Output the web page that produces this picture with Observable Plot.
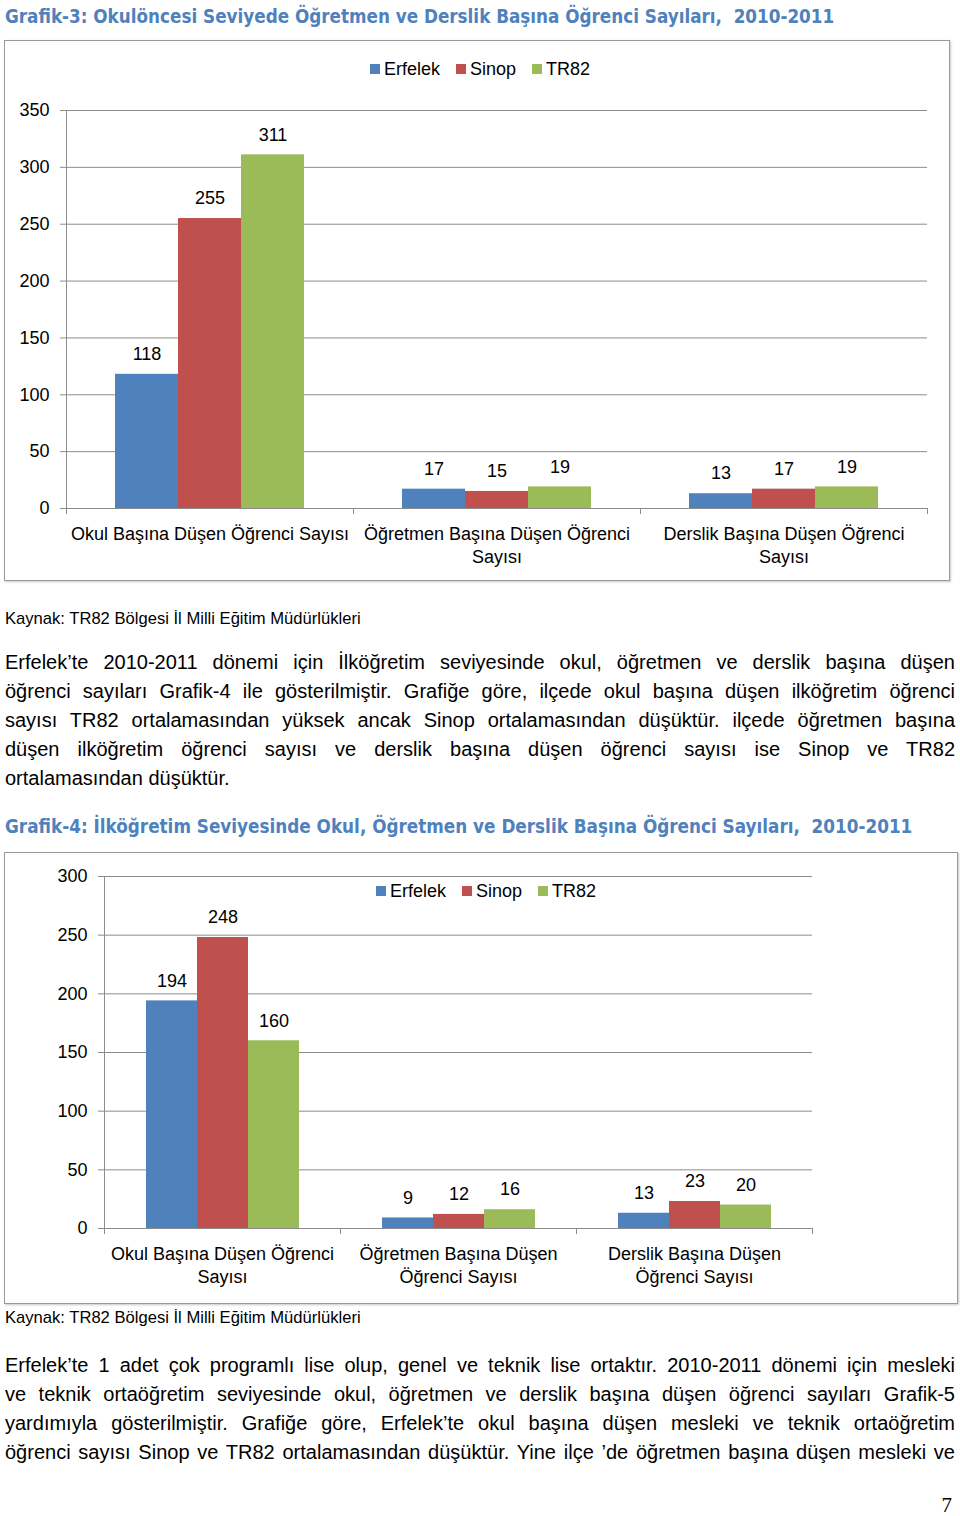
<!DOCTYPE html>
<html><head><meta charset="utf-8">
<script src="https://cdn.jsdelivr.net/npm/d3@7"></script>
<script src="https://cdn.jsdelivr.net/npm/@observablehq/plot@0.6"></script>
<style>
body{margin:0;background:#fff;}
#page{position:relative;width:960px;height:1516px;overflow:hidden;font-family:"Liberation Sans",Arial,sans-serif;color:#000;}
.title{position:absolute;left:5px;color:#4F81BD;font-weight:bold;font-family:"DejaVu Sans Condensed","DejaVu Sans",sans-serif;white-space:pre;font-size:17px;line-height:22px;}
.box{position:absolute;border:1px solid #9a9a9a;box-shadow:1px 1px 2px #c8c8c8;box-sizing:border-box;}
.chart{position:absolute;}
.legend{position:absolute;display:flex;align-items:center;font-size:18px;line-height:22px;white-space:nowrap;}
.legend .it{display:flex;align-items:center;margin-right:16px;}
.legend .sw{width:10px;height:10px;margin-right:4px;}
.src{position:absolute;left:5px;font-size:15px;line-height:20px;white-space:nowrap;}
.ln{position:absolute;left:5px;width:950px;height:29px;line-height:29px;font-size:19px;text-align:justify;text-align-last:justify;white-space:nowrap;}
.ln.last{text-align-last:left;}
.pno{position:absolute;right:8px;top:1494px;font-family:"Liberation Serif","DejaVu Serif",serif;font-size:21px;line-height:22px;}
</style></head>
<body><div id="page"></div>
<script>
// ---- data ----
const categories = ["Okul Başına Düşen Öğrenci Sayısı", "Öğretmen Başına Düşen Öğrenci Sayısı", "Derslik Başına Düşen Öğrenci Sayısı"];
const catLabels1 = ["Okul Başına Düşen Öğrenci Sayısı", "Öğretmen Başına Düşen Öğrenci\nSayısı", "Derslik Başına Düşen Öğrenci\nSayısı"];
const catLabels2 = ["Okul Başına Düşen Öğrenci\nSayısı", "Öğretmen Başına Düşen\nÖğrenci Sayısı", "Derslik Başına Düşen\nÖğrenci Sayısı"];
const series = ["Erfelek", "Sinop", "TR82"];
const seriesColors = ["#4F81BD", "#C0504D", "#9BBB59"];
const erfelek1 = [118, 17, 13];
const sinop1 = [255, 15, 17];
const tr82_1 = [311, 19, 19];
const erfelek2 = [194, 9, 13];
const sinop2 = [248, 12, 23];
const tr82_2 = [160, 16, 20];
const yTicks1 = [0, 50, 100, 150, 200, 250, 300, 350];
const yTicks2 = [0, 50, 100, 150, 200, 250, 300];
const title1 = "Grafik-3: Okulöncesi Seviyede Öğretmen ve Derslik Başına Öğrenci Sayıları,  2010-2011";
const title2 = "Grafik-4: İlköğretim Seviyesinde Okul, Öğretmen ve Derslik Başına Öğrenci Sayıları,  2010-2011";
const source = "Kaynak: TR82 Bölgesi İl Milli Eğitim Müdürlükleri";
const para1 = [
  "Erfelek’te 2010-2011 dönemi için İlköğretim seviyesinde okul, öğretmen ve derslik başına düşen",
  "öğrenci sayıları Grafik-4 ile gösterilmiştir. Grafiğe göre, ilçede okul başına düşen ilköğretim öğrenci",
  "sayısı TR82 ortalamasından yüksek ancak Sinop ortalamasından düşüktür. ilçede öğretmen başına",
  "düşen ilköğretim öğrenci sayısı ve derslik başına düşen öğrenci sayısı ise Sinop ve TR82",
  "ortalamasından düşüktür."
];
const para2 = [
  "Erfelek’te 1 adet çok programlı lise olup, genel ve teknik lise ortaktır. 2010-2011 dönemi için mesleki",
  "ve teknik ortaöğretim seviyesinde okul, öğretmen ve derslik başına düşen öğrenci sayıları Grafik-5",
  "yardımıyla gösterilmiştir. Grafiğe göre, Erfelek’te okul başına düşen mesleki ve teknik ortaöğretim",
  "öğrenci sayısı Sinop ve TR82 ortalamasından düşüktür. Yine ilçe ’de öğretmen başına düşen mesleki ve"
];

function table(e, s, t) {
  const rows = [];
  categories.forEach((c, i) => {
    rows.push({category: c, series: series[0], value: e[i]});
    rows.push({category: c, series: series[1], value: s[i]});
    rows.push({category: c, series: series[2], value: t[i]});
  });
  return rows;
}

const page = document.getElementById("page");
function el(cls, top, text, extra) {
  const d = document.createElement("div");
  d.className = cls;
  if (top != null) d.style.top = top + "px";
  if (text != null) d.textContent = text;
  if (extra) Object.assign(d.style, extra);
  page.appendChild(d);
  return d;
}
function fit(d, target) {
  const s = parseFloat(getComputedStyle(d).fontSize);
  d.style.display = "inline-block";
  const w = d.getBoundingClientRect().width;
  d.style.fontSize = (s * target / w) + "px";
}

function makeChart(opts) {
  const {data, labels, yMax, yTicks, left, top, width, height, margins, padOuter, legendLeft, legendTop} = opts;
  const lab = new Map(categories.map((c, i) => [c, labels[i]]));
  el("box", top, null, {left: left + "px", width: width + "px", height: height + "px"});
  const plot = Plot.plot({
    width, height,
    ...margins,
    style: {fontFamily: '"Liberation Sans", Arial, sans-serif', fontSize: "18px", color: "#000", background: "transparent", overflow: "visible"},
    fx: {domain: categories, padding: 0, label: null},
    x: {domain: series, axis: null, paddingInner: 0, paddingOuter: padOuter},
    y: {domain: [0, yMax], label: null},
    color: {domain: series, range: seriesColors},
    marks: [
      Plot.gridY(yTicks, {stroke: "#8c8c8c", strokeOpacity: 1, strokeWidth: 1}),
      Plot.axisY(yTicks, {tickSize: 6, tickFormat: () => "", stroke: "#8c8c8c", label: null}),
      Plot.axisY(yTicks, {tickSize: 0, tickPadding: 17, fontSize: 18, label: null}),
      Plot.barY(data, {fx: "category", x: "series", y: "value", fill: "series"}),
      Plot.text(data, {fx: "category", x: "series", y: "value", text: "value", dy: -20, fontSize: 18, fill: "#000"}),
      Plot.ruleY([0], {stroke: "#8c8c8c"}),
      Plot.axisFx({anchor: "bottom", tickSize: 0, tickPadding: 15, tickFormat: d => lab.get(d), fontSize: 18, lineHeight: 1.28, label: null})
    ]
  });
  // y-axis line and category boundary ticks, placed from the plot's own scales
  const fx = plot.scale("fx"), y = plot.scale("y");
  const svg = d3.select(plot.tagName.toLowerCase() === "svg" ? plot : plot.querySelector("svg"));
  const g = svg.append("g").attr("stroke", "#8c8c8c").attr("fill", "none");
  const x0 = fx.apply(categories[0]);
  g.append("line").attr("x1", x0 + 0.5).attr("x2", x0 + 0.5).attr("y1", y.apply(yMax)).attr("y2", y.apply(0));
  const edges = categories.map(c => fx.apply(c)).concat([fx.apply(categories[categories.length - 1]) + fx.bandwidth]);
  edges.forEach(e => g.append("line").attr("x1", e + 0.5).attr("x2", e + 0.5).attr("y1", y.apply(0)).attr("y2", y.apply(0) + 6));
  plot.classList.add("chart");
  plot.style.left = left + "px";
  plot.style.top = top + "px";
  plot.style.position = "absolute";
  page.appendChild(plot);
  // legend
  const lg = el("legend", legendTop, null, {left: legendLeft + "px"});
  series.forEach((s, i) => {
    const it = document.createElement("div"); it.className = "it";
    const sw = document.createElement("div"); sw.className = "sw"; sw.style.background = seriesColors[i];
    const tx = document.createElement("span"); tx.textContent = s;
    it.appendChild(sw); it.appendChild(tx); lg.appendChild(it);
  });
}

// titles
const t1 = el("title", 6, title1); fit(t1, 830);
const t2 = el("title", 816, title2); fit(t2, 908);

makeChart({
  data: table(erfelek1, sinop1, tr82_1), labels: catLabels1, yMax: 350, yTicks: yTicks1,
  left: 4, top: 40, width: 946, height: 541,
  margins: {marginLeft: 61, marginRight: 22, marginTop: 70, marginBottom: 73},
  padOuter: 0.75, legendLeft: 370, legendTop: 58
});
makeChart({
  data: table(erfelek2, sinop2, tr82_2), labels: catLabels2, yMax: 300, yTicks: yTicks2,
  left: 4, top: 852, width: 954, height: 452,
  margins: {marginLeft: 99, marginRight: 146, marginTop: 24, marginBottom: 76},
  padOuter: 0.77, legendLeft: 376, legendTop: 880
});

const s1 = el("src", 609, source); fit(s1, 356);
const s2 = el("src", 1308, source); fit(s2, 356);

// paragraphs
const lines = [];
para1.forEach((t, i) => lines.push(el("ln" + (i === para1.length - 1 ? " last" : ""), 648 + i * 29, t)));
para2.forEach((t, i) => lines.push(el("ln", 1351 + i * 29, t)));
// shrink font uniformly so the widest line fits
const probe = document.createElement("span");
probe.style.cssText = "position:absolute;visibility:hidden;white-space:nowrap;font-family:'Liberation Sans',Arial,sans-serif;font-size:19px";
page.appendChild(probe);
let maxW = 0;
para1.concat(para2).forEach(t => { probe.textContent = t; maxW = Math.max(maxW, probe.getBoundingClientRect().width); });
probe.remove();
const fs = Math.min(20, 19 * 946 / maxW);
lines.forEach(d => d.style.fontSize = fs + "px");

el("pno", null, "7");
</script>
</body></html>
